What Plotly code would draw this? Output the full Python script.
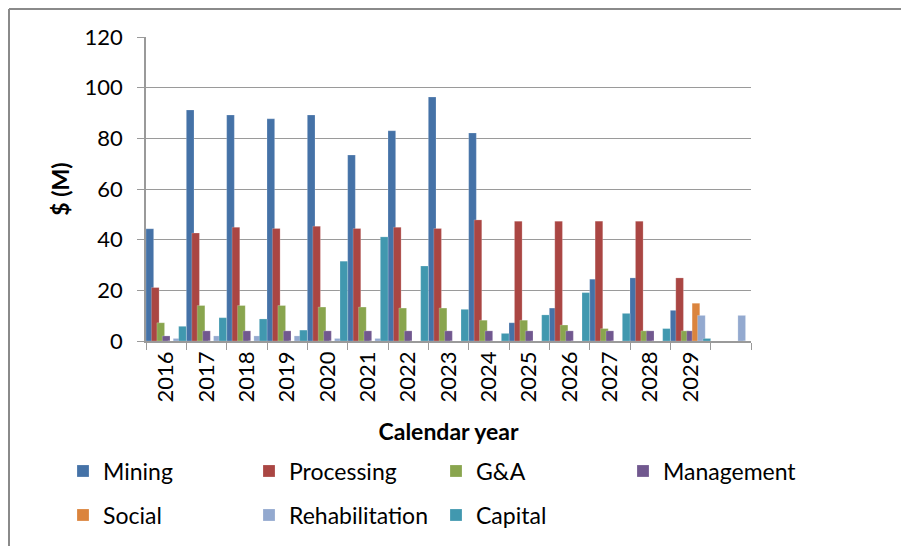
import plotly.graph_objects as go

# Calendar years (last slot carries only the closing rehabilitation spend)
years = ["2016", "2017", "2018", "2019", "2020", "2021", "2022",
         "2023", "2024", "2025", "2026", "2027", "2028", "2029", " "]

# Annual costs, $ millions
mining =         [44.3, 91.2, 89.2, 87.7, 89.2, 73.4, 83.0, 96.3, 82.1, 7.2, 13.0, 24.4, 24.9, 12.1, 0]
processing =     [21.1, 42.6, 44.9, 44.4, 45.3, 44.4, 44.9, 44.4, 47.8, 47.3, 47.3, 47.3, 47.3, 24.9, 0]
g_and_a =        [7.2, 14.0, 14.0, 14.0, 13.4, 13.4, 13.0, 13.0, 8.2, 8.2, 6.3, 4.9, 4.0, 4.0, 0]
management =     [2.0, 4.0, 4.0, 4.0, 4.0, 4.0, 4.0, 4.0, 4.0, 4.0, 4.0, 4.0, 4.0, 4.0, 0]
social =         [0, 0, 0, 0, 0, 0, 0, 0, 0, 0, 0, 0, 0, 14.9, 0]
rehabilitation = [1.0, 2.0, 2.0, 2.0, 1.0, 1.0, 0, 0, 0, 0, 0, 0, 0, 10.1, 10.1]
capital =        [5.8, 9.2, 8.7, 4.3, 31.5, 41.1, 29.6, 12.5, 3.0, 10.3, 19.1, 10.9, 4.9, 1.0, 0]

series = [
    ("Mining", mining, "#4572A7"),
    ("Processing", processing, "#AA4643"),
    ("G&A", g_and_a, "#89A54E"),
    ("Management", management, "#71588F"),
    ("Social", social, "#DB843D"),
    ("Rehabilitation", rehabilitation, "#93A9CF"),
    ("Capital", capital, "#4198AF"),
]

FONT = "Lato"
W, H = 901, 546
L, R, T, B = 146, 150, 37, 205   # plot area: x 146..751, y 37..341
pw, ph = W - L - R, H - T - B
fx = lambda px: (px - L) / pw
fy = lambda py: (T + ph - py) / ph

# Overlapping clustered bars: each bar 0.19 of a category, stepped evenly
bar_w = 0.19
step = (1 - bar_w) / (len(series) - 1)

# Legend grid: 4 columns, 2 rows (pixel positions of each entry's left edge)
col_x = [63, 249, 436, 623]
row_y = [471, 515]

fig = go.Figure()
legends = {}
for i, (name, vals, color) in enumerate(series):
    key = "legend" if i == 0 else f"legend{i + 1}"
    fig.add_trace(go.Bar(
        x=years, y=vals, name=name,
        offset=-0.5 + i * step, width=bar_w,
        marker=dict(color=color, line=dict(width=0.6, color="rgba(255,255,255,0.35)")),
        legend=key, showlegend=True,
    ))
    legends[key] = dict(
        x=fx(col_x[i % 4]), xanchor="left",
        y=fy(row_y[i // 4]), yanchor="middle",
        font=dict(size=23), itemclick=False, itemdoubleclick=False,
        bgcolor="rgba(0,0,0,0)", visible=True,
    )

grey = "#9a9a9a"
fig.update_layout(
    width=W, height=H,
    margin=dict(l=L, r=R, t=T, b=B, autoexpand=False),
    barmode="overlay",
    showlegend=True,
    plot_bgcolor="white", paper_bgcolor="white",
    font=dict(family=FONT, size=22, color="#000000"),
    xaxis=dict(
        type="category", categoryorder="array", categoryarray=years,
        tickson="boundaries", ticks="outside", ticklen=7, tickcolor=grey,
        tickangle=-90, tickfont=dict(size=22),
        showline=True, linecolor=grey, linewidth=1.5,
        showgrid=False,
        title=dict(text="<b>Calendar year</b>", font=dict(size=23), standoff=22),
    ),
    yaxis=dict(
        range=[0, 120], dtick=20,
        ticks="outside", ticklen=7, tickcolor=grey,
        ticklabelstandoff=10, tickfont=dict(size=22),
        showline=True, linecolor=grey, linewidth=1.5,
        showgrid=True, gridcolor=grey, gridwidth=1.2,
        zeroline=False,
        title=dict(text="<b>$ (M)</b>", font=dict(size=23), standoff=9),
    ),
    **legends,
)

# Chart frame (left and top edges)
frame = "#8a8a8a"
fig.add_shape(type="line", xref="paper", yref="paper",
              x0=fx(9), x1=fx(W + 5), y0=fy(9), y1=fy(9),
              line=dict(color=frame, width=2))
fig.add_shape(type="line", xref="paper", yref="paper",
              x0=fx(9), x1=fx(9), y0=fy(9), y1=fy(H + 5),
              line=dict(color=frame, width=2))

fig.write_html("out.html")
